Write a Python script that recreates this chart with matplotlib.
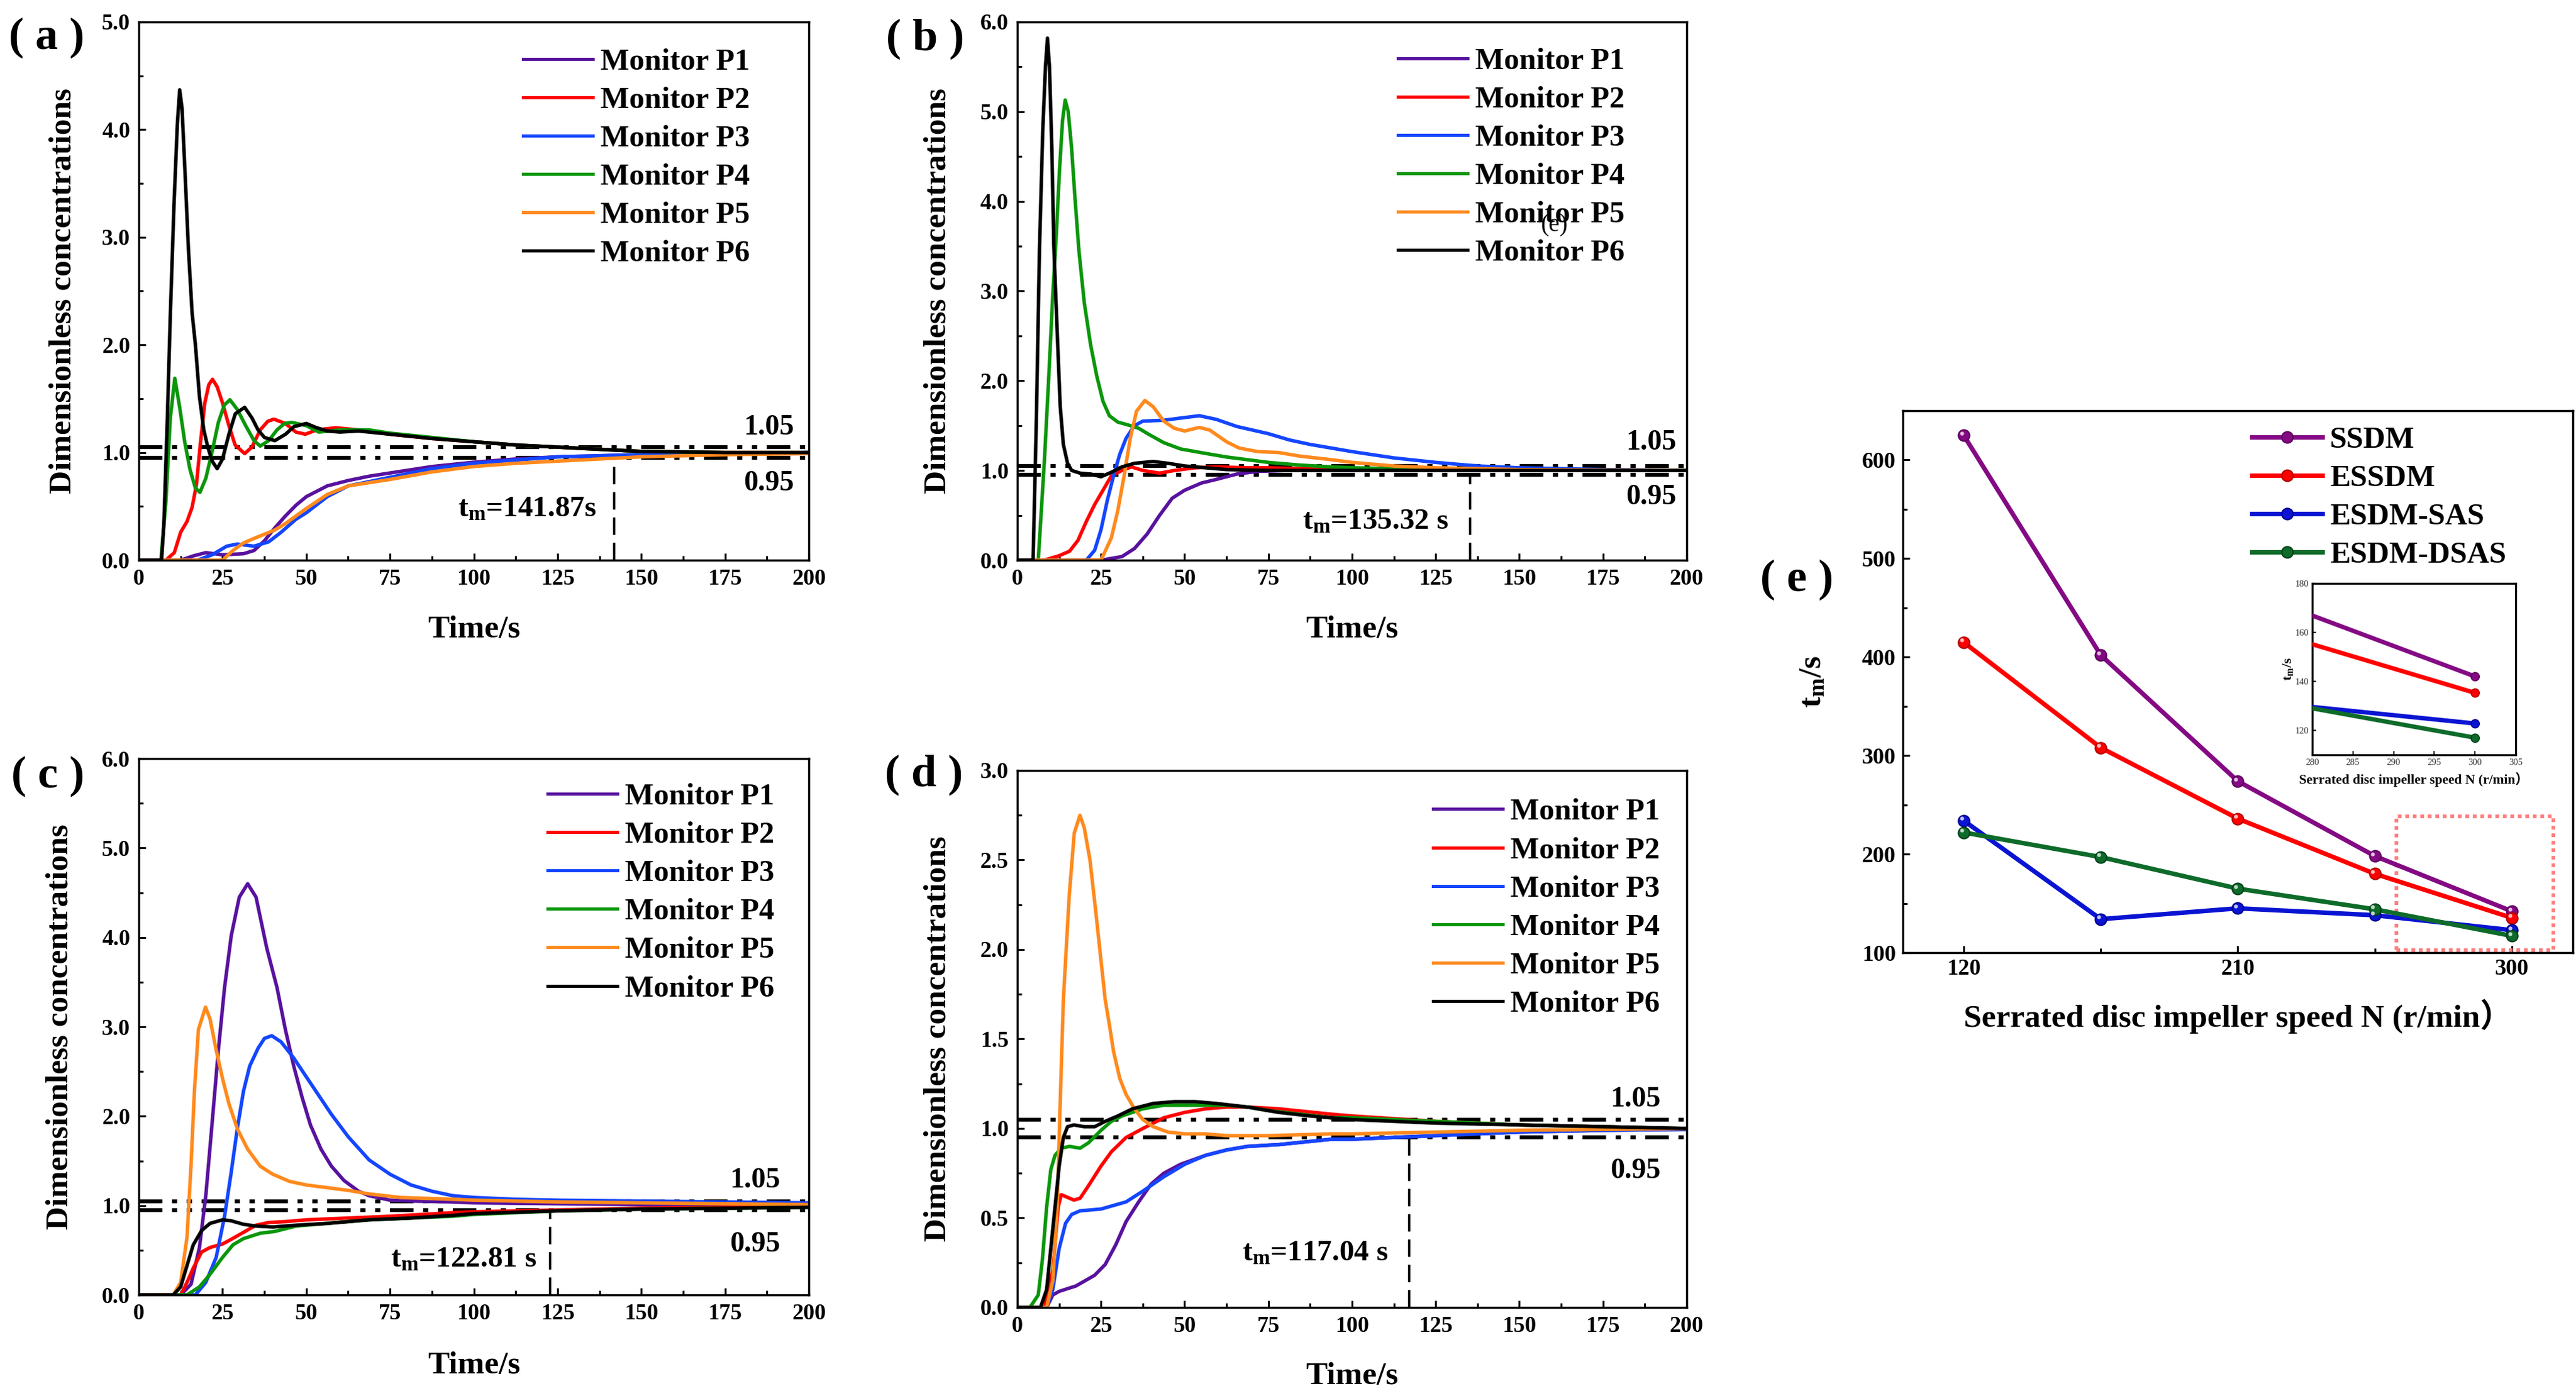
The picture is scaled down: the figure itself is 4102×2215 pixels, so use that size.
import matplotlib
matplotlib.use('Agg')
import matplotlib.pyplot as plt
from matplotlib.ticker import MultipleLocator, FormatStrFormatter, FixedLocator
from matplotlib.patches import Rectangle
import matplotlib.transforms as mtransforms

plt.rcParams['font.family'] = ['Liberation Serif', 'Noto Sans CJK SC', 'DejaVu Sans']
plt.rcParams['font.weight'] = 'bold'
plt.rcParams['mathtext.fontset'] = 'custom'
plt.rcParams['mathtext.rm'] = 'Liberation Serif:bold'
plt.rcParams['mathtext.it'] = 'Liberation Serif:bold'
plt.rcParams['mathtext.bf'] = 'Liberation Serif:bold'
plt.rcParams['lines.scale_dashes'] = False
plt.rcParams['axes.linewidth'] = 2.5

# ---------------- data ----------------
monitors = ['Monitor P1', 'Monitor P2', 'Monitor P3', 'Monitor P4', 'Monitor P5', 'Monitor P6']
monitor_colors = ['#58129E', '#FF0000', '#1446FF', '#0A960A', '#FF8A1E', '#000000']

# panel (a)
a_t1 = [0, 12.5, 16.3, 20, 25, 31.25, 34.4, 37.5, 40.6, 43.75, 46.9, 50, 56.25, 62.5, 68.75, 75, 87.5, 100, 112.5, 125, 137.5, 150, 175, 200]
a_y1 = [0, 0, 0.04, 0.07, 0.05, 0.06, 0.09, 0.18, 0.30, 0.41, 0.51, 0.59, 0.69, 0.74, 0.78, 0.81, 0.87, 0.91, 0.94, 0.96, 0.97, 0.98, 0.99, 1.0]
a_t2 = [0, 8.1, 10.6, 12.5, 14.4, 15.9, 17.2, 18.4, 19.7, 20.9, 22, 23.4, 25, 26.9, 28.75, 31.6, 33.75, 36.25, 38.5, 40.3, 43.75, 46.9, 49.7, 53.1, 58.75, 65.6, 75, 87.5, 100, 112.5, 125, 137.5, 150, 175, 200]
a_y2 = [0, 0, 0.07, 0.26, 0.36, 0.49, 0.70, 1.09, 1.46, 1.63, 1.68, 1.61, 1.46, 1.25, 1.07, 0.99, 1.05, 1.21, 1.29, 1.31, 1.27, 1.19, 1.17, 1.21, 1.23, 1.21, 1.17, 1.13, 1.10, 1.07, 1.05, 1.03, 1.01, 1.0, 1.0]
a_t3 = [0, 17.5, 21.9, 26.25, 29.4, 34.4, 38.75, 42.5, 46.9, 50, 56.25, 62.5, 68.75, 75, 87.5, 100, 112.5, 125, 137.5, 150, 175, 200]
a_y3 = [0, 0, 0.05, 0.13, 0.15, 0.13, 0.17, 0.26, 0.38, 0.44, 0.59, 0.69, 0.73, 0.77, 0.85, 0.90, 0.93, 0.96, 0.97, 0.98, 0.99, 1.0]
a_t4 = [0, 6.6, 8.1, 9.4, 10.75, 12.2, 13.75, 15.3, 16.9, 18.25, 20, 21.9, 23.75, 25.5, 27.2, 29.4, 31.9, 34.4, 36.25, 38.75, 41.25, 43.5, 45.6, 50, 53.75, 57, 60, 68.75, 75, 87.5, 100, 112.5, 125, 137.5, 150, 175, 200]
a_y4 = [0, 0, 0.55, 1.32, 1.69, 1.42, 1.09, 0.84, 0.67, 0.63, 0.76, 1.01, 1.28, 1.44, 1.49, 1.40, 1.25, 1.11, 1.06, 1.11, 1.21, 1.27, 1.28, 1.25, 1.19, 1.20, 1.21, 1.21, 1.18, 1.14, 1.10, 1.07, 1.05, 1.03, 1.01, 1.0, 1.0]
a_t5 = [0, 25, 28.1, 31.25, 35, 40.6, 43.75, 50, 56.25, 62.5, 68.75, 75, 87.5, 100, 112.5, 125, 137.5, 150, 175, 200]
a_y5 = [0, 0, 0.09, 0.16, 0.21, 0.28, 0.34, 0.48, 0.61, 0.69, 0.72, 0.75, 0.82, 0.87, 0.90, 0.92, 0.94, 0.96, 0.98, 0.99]
a_t6 = [0, 6.8, 7.5, 8.5, 9.4, 10.5, 11.5, 12.2, 12.9, 13.8, 14.8, 15.9, 16.9, 18.1, 19.4, 20.6, 21.9, 23.4, 25, 26.9, 28.8, 31.6, 33.8, 35.6, 37.5, 40.6, 43.8, 46.3, 50, 53.1, 56.3, 60, 65.6, 75, 87.5, 100, 112.5, 125, 137.5, 150, 175, 200]
a_y6 = [0, 0, 0.35, 1.3, 2.27, 3.3, 4.05, 4.37, 4.2, 3.6, 2.9, 2.3, 2.0, 1.52, 1.21, 1.05, 0.92, 0.85, 0.94, 1.17, 1.36, 1.42, 1.32, 1.21, 1.14, 1.11, 1.17, 1.24, 1.27, 1.23, 1.20, 1.19, 1.20, 1.17, 1.13, 1.10, 1.07, 1.05, 1.03, 1.01, 1.0, 1.0]

# panel (b)
b_t1 = [0, 25, 31.25, 35, 38.75, 42.5, 46.25, 50, 55, 59.4, 65.6, 71.9, 80, 100, 200]
b_y1 = [0, 0, 0.04, 0.13, 0.29, 0.50, 0.69, 0.78, 0.86, 0.90, 0.96, 0.99, 1.0, 1.0, 1.0]
b_t2 = [0, 8, 12.5, 15.6, 18.1, 20.6, 23.1, 25.6, 28.1, 31.25, 34.1, 37.5, 42.5, 46.9, 53.1, 59.4, 68.75, 75, 93.8, 110, 125, 150, 200]
b_y2 = [0, 0, 0.05, 0.10, 0.22, 0.43, 0.62, 0.78, 0.94, 1.00, 1.04, 1.00, 0.97, 1.00, 1.03, 1.04, 1.03, 1.03, 1.01, 1.0, 1.0, 1.0, 1.0]
b_t3 = [0, 20.6, 23.1, 25, 26.9, 28.75, 30.6, 32.5, 35, 37.5, 43.75, 50, 54.4, 59.4, 65.6, 75, 81.3, 87.5, 93.8, 100, 112.5, 125, 137.5, 150, 175, 200]
b_y3 = [0, 0, 0.11, 0.34, 0.67, 0.94, 1.18, 1.36, 1.50, 1.55, 1.56, 1.59, 1.61, 1.57, 1.49, 1.41, 1.34, 1.29, 1.25, 1.21, 1.14, 1.09, 1.05, 1.03, 1.01, 1.0]
b_t4 = [0, 6.25, 8.1, 9.4, 10.6, 11.6, 12.6, 13.5, 14.3, 15.2, 16.2, 17.2, 18.4, 20, 21.9, 23.75, 25.6, 27.5, 30, 33.75, 36.25, 39.4, 43.75, 48.75, 56.25, 62.5, 68.75, 75, 84.4, 93.8, 100, 112.5, 125, 150, 200]
b_y4 = [0, 0, 1.12, 2.05, 2.97, 3.6, 4.35, 4.9, 5.13, 5.0, 4.6, 4.05, 3.45, 2.87, 2.4, 2.05, 1.77, 1.61, 1.54, 1.50, 1.47, 1.40, 1.31, 1.24, 1.19, 1.15, 1.12, 1.09, 1.06, 1.04, 1.03, 1.02, 1.01, 1.0, 1.0]
b_t5 = [0, 25, 28.1, 30, 31.9, 33.75, 35.6, 38.1, 40.6, 43.75, 46.9, 50, 54.4, 57.5, 62.5, 66.25, 71.9, 78.1, 84.4, 93.8, 100, 112.5, 125, 150, 200]
b_y5 = [0, 0, 0.25, 0.55, 0.94, 1.36, 1.66, 1.78, 1.71, 1.55, 1.47, 1.44, 1.48, 1.45, 1.32, 1.25, 1.21, 1.20, 1.16, 1.12, 1.09, 1.05, 1.03, 1.01, 1.0]
b_t6 = [0, 4.7, 5.7, 6.6, 7.6, 8.4, 9.0, 9.6, 10.3, 10.9, 11.9, 12.8, 13.75, 15, 16.25, 18.75, 21.9, 25, 28.1, 31.25, 35, 40.6, 45, 50, 56.3, 62.5, 75, 100, 125, 150, 200]
b_y6 = [0, 0, 1.6, 3.45, 4.8, 5.5, 5.82, 5.5, 4.6, 3.5, 2.55, 1.72, 1.29, 1.08, 1.0, 0.97, 0.96, 0.93, 0.98, 1.04, 1.08, 1.10, 1.08, 1.05, 1.03, 1.01, 1.0, 1.0, 1.0, 1.0, 1.0]

# panel (c)
c_t1 = [0, 12.5, 15.6, 18.1, 20, 21.9, 23.75, 25.6, 27.6, 30, 32.5, 35, 38.2, 41.25, 43.75, 46.25, 48.75, 51.25, 54.4, 57.5, 61.25, 65.6, 68.75, 75, 81.25, 93.75, 100, 125, 150, 200]
c_y1 = [0, 0, 0.12, 0.53, 1.11, 1.93, 2.74, 3.44, 4.02, 4.45, 4.60, 4.45, 3.88, 3.44, 2.97, 2.56, 2.21, 1.90, 1.63, 1.44, 1.28, 1.16, 1.11, 1.06, 1.05, 1.04, 1.03, 1.02, 1.01, 1.0]
c_t2 = [0, 12.5, 14.4, 16.25, 18.75, 21.25, 25, 27.5, 31.25, 35, 38.75, 43.75, 50, 62.5, 75, 93.75, 100, 125, 150, 175, 200]
c_y2 = [0, 0, 0.14, 0.30, 0.48, 0.53, 0.57, 0.62, 0.70, 0.78, 0.81, 0.82, 0.84, 0.86, 0.88, 0.92, 0.93, 0.95, 0.97, 0.98, 0.99]
c_t3 = [0, 16.9, 20, 23.1, 25.6, 27.5, 29.4, 31.25, 33.1, 35.6, 37.5, 39.7, 42.5, 46.25, 50, 53.75, 57.5, 62.5, 68.75, 75, 81.25, 87.5, 93.75, 100, 112.5, 125, 150, 175, 200]
c_y3 = [0, 0, 0.14, 0.42, 0.88, 1.35, 1.86, 2.28, 2.56, 2.76, 2.87, 2.90, 2.83, 2.65, 2.44, 2.23, 2.02, 1.77, 1.51, 1.35, 1.23, 1.16, 1.11, 1.09, 1.07, 1.06, 1.05, 1.04, 1.03]
c_t4 = [0, 14.4, 18.1, 21.25, 25, 28.1, 31.25, 36.25, 40.6, 46.9, 56.25, 68.75, 81.25, 93.75, 100, 125, 150, 175, 200]
c_y4 = [0, 0, 0.09, 0.23, 0.42, 0.56, 0.63, 0.69, 0.71, 0.77, 0.80, 0.84, 0.86, 0.88, 0.90, 0.94, 0.96, 0.97, 0.98]
c_t5 = [0, 10.3, 12.5, 14.4, 15.6, 16.6, 17.8, 19.9, 21.25, 23.1, 25, 26.9, 29.4, 32.5, 36.25, 40, 45, 50, 56.25, 62.5, 68.75, 78.1, 93.75, 100, 125, 150, 175, 200]
c_y5 = [0, 0, 0.14, 0.65, 1.46, 2.28, 2.97, 3.22, 3.09, 2.74, 2.42, 2.14, 1.86, 1.63, 1.44, 1.35, 1.27, 1.23, 1.20, 1.17, 1.13, 1.09, 1.07, 1.06, 1.04, 1.03, 1.02, 1.01]
c_t6 = [0, 10.3, 12.5, 14.4, 16.25, 18.75, 21.25, 25, 27.5, 31.25, 35, 40, 46.9, 56.25, 68.75, 81.25, 93.75, 100, 125, 150, 175, 200]
c_y6 = [0, 0, 0.09, 0.33, 0.56, 0.72, 0.80, 0.84, 0.83, 0.79, 0.77, 0.76, 0.78, 0.80, 0.84, 0.86, 0.89, 0.91, 0.94, 0.96, 0.97, 0.98]

# panel (d)
d_t1 = [0, 8.75, 10.6, 12.5, 17.5, 23.1, 26.25, 29.4, 32.5, 36.25, 40, 43.75, 48.75, 56.25, 62.5, 68.75, 78.1, 93.8, 100, 125, 150, 175, 200]
d_y1 = [0, 0, 0.07, 0.09, 0.12, 0.18, 0.24, 0.35, 0.48, 0.59, 0.69, 0.75, 0.80, 0.85, 0.88, 0.90, 0.91, 0.94, 0.94, 0.96, 0.98, 0.99, 0.995]
d_t2 = [0, 8.1, 10.6, 12.2, 13.1, 14.4, 16.9, 18.75, 21.25, 25, 28.1, 32.5, 37.5, 43.75, 50, 56.25, 62.5, 68.75, 78.1, 93.8, 100, 125, 150, 175, 200]
d_y2 = [0, 0, 0.21, 0.56, 0.63, 0.62, 0.60, 0.61, 0.68, 0.79, 0.87, 0.95, 1.00, 1.06, 1.09, 1.11, 1.12, 1.12, 1.11, 1.08, 1.07, 1.04, 1.02, 1.01, 1.0]
d_t3 = [0, 8.75, 10.6, 12.5, 14.4, 16.25, 18.75, 25, 28.75, 32.5, 37.5, 43.75, 50, 56.25, 62.5, 68.75, 78.1, 93.8, 100, 125, 150, 175, 200]
d_y3 = [0, 0, 0.10, 0.33, 0.47, 0.52, 0.54, 0.55, 0.57, 0.59, 0.65, 0.73, 0.80, 0.85, 0.88, 0.90, 0.91, 0.94, 0.94, 0.96, 0.98, 0.99, 0.995]
d_t4 = [0, 3.75, 6.25, 7.5, 8.75, 10, 11.25, 13.1, 15.6, 18.75, 21.25, 25, 28.1, 31.25, 37.5, 43.75, 50, 56.25, 62.5, 68.75, 75, 84.4, 93.8, 100, 125, 150, 175, 200]
d_y4 = [0, 0, 0.07, 0.27, 0.56, 0.77, 0.85, 0.89, 0.90, 0.89, 0.92, 0.99, 1.04, 1.07, 1.11, 1.13, 1.13, 1.13, 1.13, 1.12, 1.10, 1.08, 1.06, 1.06, 1.04, 1.02, 1.01, 1.0]
d_t5 = [0, 8.75, 10.6, 11.9, 12.8, 13.75, 15.5, 17, 18.7, 20, 21.7, 23.5, 26.25, 27.5, 28.75, 30.6, 32.5, 35, 37.5, 40.6, 45, 50, 56.25, 62.5, 75, 93.8, 100, 125, 150, 200]
d_y5 = [0, 0, 0.15, 0.56, 1.14, 1.72, 2.3, 2.65, 2.75, 2.68, 2.5, 2.2, 1.72, 1.58, 1.43, 1.28, 1.19, 1.11, 1.05, 1.01, 0.98, 0.97, 0.97, 0.96, 0.96, 0.97, 0.97, 0.98, 0.99, 1.0]
d_t6 = [0, 6.9, 8.75, 10, 11.25, 12.5, 13.75, 15, 16.9, 20, 23.1, 26.25, 30, 34.4, 40.6, 46.9, 53.1, 59.4, 68.75, 78.1, 87.5, 93.8, 100, 125, 150, 175, 200]
d_y6 = [0, 0, 0.10, 0.33, 0.56, 0.79, 0.95, 1.01, 1.02, 1.01, 1.01, 1.04, 1.07, 1.11, 1.14, 1.15, 1.15, 1.14, 1.12, 1.09, 1.07, 1.06, 1.05, 1.03, 1.02, 1.01, 1.0]

tm_values = [141.87, 135.32, 122.81, 117.04]
tm_texts = ['141.87s', '135.32 s', '122.81 s', '117.04 s']
band_levels = [1.05, 0.95]
band_labels = ['1.05', '0.95']
panel_letters = ['( a )', '( b )', '( c )', '( d )', '( e )']

# panel (e)
speeds = [120, 165, 210, 255, 300]
ssdm = [625, 402, 274, 198, 142]
essdm = [415, 308, 236, 180, 135.3]
esdm_sas = [234, 134, 145, 138, 122.8]
esdm_dsas = [222, 197, 165, 144, 117]
e_names = ['SSDM', 'ESSDM', 'ESDM-SAS', 'ESDM-DSAS']
e_colors = ['#840A84', '#FF0000', '#0A14D2', '#0E6B2A']
e_edges = ['#5A005A', '#B00000', '#000090', '#00401A']
e_xticks = [120, 210, 300]
e_xminor = [165, 255]

# ---------------- figure ----------------
fig = plt.figure(figsize=(41.02, 22.15), dpi=100)

panels = [
    dict(rect=[0.05388, 0.59729, 0.26012, 0.38691], t=[a_t1, a_t2, a_t3, a_t4, a_t5, a_t6],
         y=[a_y1, a_y2, a_y3, a_y4, a_y5, a_y6], ymax=5.0, ystep=1.0, yminor=0.5,
         ylab_x=-0.091, xlab_y=-0.103, leg=(0.5736, 0.951), hi=(195.6, 1.23), lo=(195.6, 0.71),
         tmpos=(136.6, 0.47)),
    dict(rect=[0.39493, 0.59729, 0.25987, 0.38691], t=[b_t1, b_t2, b_t3, b_t4, b_t5, b_t6],
         y=[b_y1, b_y2, b_y3, b_y4, b_y5, b_y6], ymax=6.0, ystep=1.0, yminor=0.5,
         ylab_x=-0.097, xlab_y=-0.103, leg=(0.5685, 0.952), hi=(197, 1.31), lo=(197, 0.70),
         tmpos=(128.8, 0.42)),
    dict(rect=[0.05388, 0.06907, 0.26012, 0.38555], t=[c_t1, c_t2, c_t3, c_t4, c_t5, c_t6],
         y=[c_y1, c_y2, c_y3, c_y4, c_y5, c_y6], ymax=6.0, ystep=1.0, yminor=0.5,
         ylab_x=-0.096, xlab_y=-0.105, leg=(0.610, 0.954), hi=(191.4, 1.28), lo=(191.4, 0.56),
         tmpos=(118.7, 0.39)),
    dict(rect=[0.39493, 0.06005, 0.25987, 0.38600], t=[d_t1, d_t2, d_t3, d_t4, d_t5, d_t6],
         y=[d_y1, d_y2, d_y3, d_y4, d_y5, d_y6], ymax=3.0, ystep=0.5, yminor=0.25,
         ylab_x=-0.097, xlab_y=-0.102, leg=(0.621, 0.948), hi=(192.3, 1.16), lo=(192.3, 0.76),
         tmpos=(110.9, 0.30)),
]
letter_pos = [(0.0180, 0.9729), (0.3591, 0.9720), (0.0185, 0.4420), (0.3586, 0.4429), (0.6975, 0.5833)]

TICK_FS = 26
LAB_FS = 37
LEG_FS = 35

def style_axes(ax):
    ax.tick_params(which='both', direction='in', top=False, right=False, width=2.2,
                   labelsize=TICK_FS)
    ax.tick_params(which='major', length=8)
    ax.tick_params(which='minor', length=5)
    ax.tick_params(axis='x', pad=10)
    ax.tick_params(axis='y', pad=10)
    for s in ax.spines.values():
        s.set_linewidth(2.5)
    for lab in ax.get_xticklabels() + ax.get_yticklabels():
        lab.set_fontweight('bold')

axes_list = []
for i, p in enumerate(panels):
    ax = fig.add_axes(p['rect'])
    axes_list.append(ax)
    # threshold band lines
    for lvl in band_levels:
        ax.axhline(lvl, color='black', lw=4.5,
                   linestyle=(0, (27, 11, 6, 11, 6, 11)), zorder=1.5)
    for k in range(6):
        ax.plot(p['t'][k], p['y'][k], color=monitor_colors[k], lw=4.0,
                label=monitors[k], zorder=2, solid_joinstyle='round')
    tm = tm_values[i]
    ax.plot([tm, tm], [0, 0.95], color='black', lw=2.6, linestyle=(0, (20, 9)), zorder=1.6)
    ax.set_xlim(0, 200)
    ax.set_ylim(0, p['ymax'])
    ax.xaxis.set_major_locator(MultipleLocator(25))
    ax.xaxis.set_minor_locator(MultipleLocator(12.5))
    ax.yaxis.set_major_locator(MultipleLocator(p['ystep']))
    ax.yaxis.set_minor_locator(MultipleLocator(p['yminor']))
    ax.yaxis.set_major_formatter(FormatStrFormatter('%.1f'))
    style_axes(ax)
    ax.set_xlabel('Time/s', fontsize=LAB_FS, fontweight='bold')
    ax.set_ylabel('Dimensionless concentrations', fontsize=LAB_FS, fontweight='bold')
    ax.yaxis.set_label_coords(p['ylab_x'], 0.5)
    ax.xaxis.set_label_coords(0.5, p['xlab_y'])
    leg = ax.legend(loc='upper left', bbox_to_anchor=p['leg'], frameon=False,
                    fontsize=LEG_FS, borderpad=0, borderaxespad=0, handlelength=2.28,
                    handletextpad=0.25, labelspacing=0.35)
    for line in leg.get_lines():
        line.set_linewidth(3.6)
    ax.text(p['hi'][0], p['hi'][1], band_labels[0], fontsize=33, fontweight='bold',
            ha='right', va='center')
    ax.text(p['lo'][0], p['lo'][1], band_labels[1], fontsize=33, fontweight='bold',
            ha='right', va='center')
    ax.text(p['tmpos'][0], p['tmpos'][1], r'$\mathrm{t_m}$=' + tm_texts[i], fontsize=34,
            fontweight='bold', ha='right', va='center')

# stray "(e)" text in panel (b), as in the reference
axes_list[1].text(0.802, 0.622, '(e)', transform=axes_list[1].transAxes, fontsize=28,
                  fontweight='normal', ha='center', va='center', zorder=5)

# ---------------- panel (e) ----------------
ax_e = fig.add_axes([0.73866, 0.31512, 0.26012, 0.38962])
e_series = [ssdm, essdm, esdm_sas, esdm_dsas]
hl = mtransforms.offset_copy(ax_e.transData, fig=fig, x=-2.5, y=2.5, units='points')
for k in range(4):
    ax_e.plot(speeds, e_series[k], color=e_colors[k], lw=5.2, marker='o', ms=13,
              mfc=e_colors[k], mec=e_edges[k], mew=1.5, label=e_names[k], zorder=3)
    ax_e.plot(speeds, e_series[k], ls='none', marker='o', ms=4.5, mfc='white', mec='none',
              alpha=0.75, transform=hl, zorder=4)
ax_e.set_xlim(100, 320)
ax_e.set_ylim(100, 650)
ax_e.xaxis.set_major_locator(FixedLocator(e_xticks))
ax_e.xaxis.set_minor_locator(FixedLocator(e_xminor))
ax_e.yaxis.set_major_locator(MultipleLocator(100))
ax_e.yaxis.set_minor_locator(MultipleLocator(50))
style_axes(ax_e)
ax_e.tick_params(axis='x', pad=7)
ax_e.tick_params(axis='y', pad=8)
ax_e.set_xlabel('Serrated disc impeller speed N (r/min\uff09', fontsize=LAB_FS, fontweight='bold')
ax_e.xaxis.set_label_coords(0.5, -0.085)
ax_e.set_ylabel(r'$\mathrm{t_m}$/s', fontsize=LAB_FS, fontweight='bold')
ax_e.yaxis.set_label_coords(-0.112, 0.5)
leg_e = ax_e.legend(loc='upper left', bbox_to_anchor=(0.521, 0.971), frameon=False,
                    fontsize=LEG_FS, borderpad=0, borderaxespad=0, handlelength=2.3,
                    handletextpad=0.25, labelspacing=0.35, numpoints=1)
ax_e.add_patch(Rectangle((262, 102.5), 51.6, 136, fill=False, ec='#FF7F7F', lw=4.2,
                         ls=(0, (4.3, 4.3)), zorder=2))

# inset
ax_in = fig.add_axes([0.89761, 0.45734, 0.07899, 0.12325])
for k in range(4):
    ax_in.plot(speeds, e_series[k], color=e_colors[k], lw=5, marker='o', ms=9.5,
               mfc=e_colors[k], mec=e_edges[k], mew=1.2, zorder=3)
ax_in.set_xlim(280, 305)
ax_in.set_ylim(110, 180)
ax_in.xaxis.set_major_locator(MultipleLocator(5))
ax_in.yaxis.set_major_locator(MultipleLocator(20))
ax_in.tick_params(which='both', direction='in', labelsize=10.5, length=4, width=1.5,
                  pad=4, labelcolor='#333333')
for lab in ax_in.get_xticklabels() + ax_in.get_yticklabels():
    lab.set_fontweight('normal')
for s in ax_in.spines.values():
    s.set_linewidth(2.3)
ax_in.set_xlabel('Serrated disc impeller speed N (r/min\uff09', fontsize=15.5, fontweight='bold')
ax_in.xaxis.set_label_coords(0.5, -0.10)
ax_in.set_ylabel(r'$\mathrm{t_m}$/s', fontsize=16, fontweight='bold')
ax_in.yaxis.set_label_coords(-0.085, 0.5)

# panel letters
for lt, (x, y) in zip(panel_letters, letter_pos):
    fig.text(x, y, lt, fontsize=52, fontweight='bold', ha='center', va='center')

fig.savefig('out.png', dpi=100)
